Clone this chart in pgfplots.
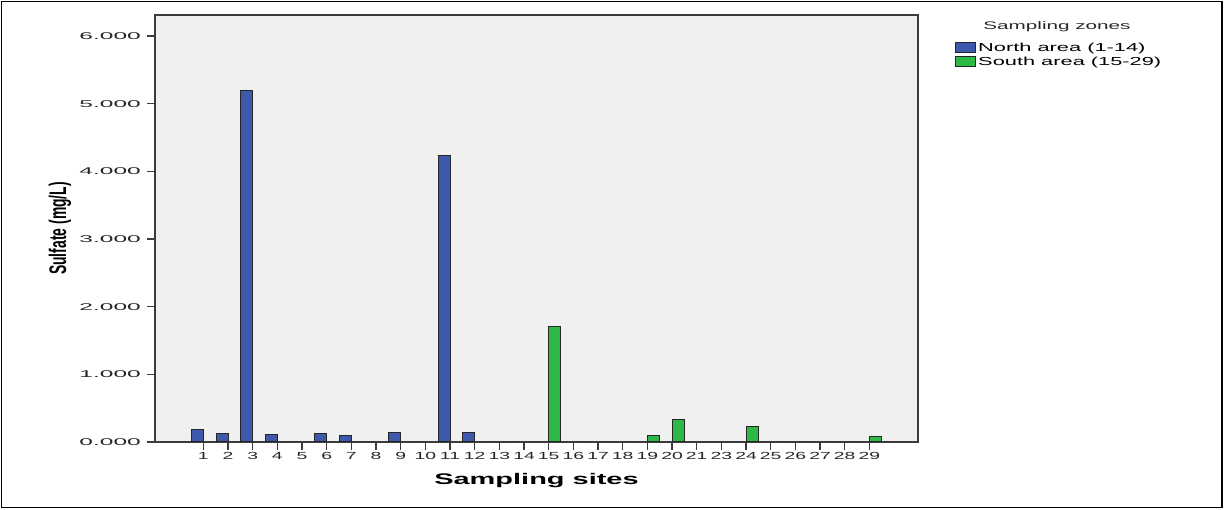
\documentclass[border=0pt]{standalone}
\usepackage{pgfplots}
\pgfplotsset{compat=1.18}
\usepackage{fontspec}
\setmainfont[FakeStretch=1.88]{Liberation Sans}
\newfontfamily\ylabfont[FakeStretch=0.58]{Liberation Sans}
\newfontfamily\ytickfont[FakeStretch=2.5]{Liberation Sans}
\definecolor{northblue}{RGB}{62,88,172}
\definecolor{southgreen}{RGB}{46,184,72}
\definecolor{plotbg}{RGB}{240,240,240}
\definecolor{axisgray}{RGB}{60,60,60}
\begin{document}
\begin{tikzpicture}[x=1pt,y=1pt]
\useasboundingbox (0,0) rectangle (1225,510);
\draw[line width=1.3pt] (1.5,2.5) rectangle (1222,508.5);
\begin{axis}[
  at={(155pt,68pt)}, anchor=south west,
  scale only axis, width=763pt, height=427pt,
  xmin=-1.96, xmax=28.97, ymin=0, ymax=6.31,
  ybar=0pt, bar width=12pt,
  axis background/.style={fill=plotbg},
  axis line style={line width=1.3pt, axisgray},
  tick align=outside, major tick length=8pt,
  tick style={line width=1.3pt, axisgray},
  xtick pos=bottom, ytick pos=left,
  xtick={0,...,27},
  xticklabels={1,2,3,4,5,6,7,8,9,10,11,12,13,14,15,16,17,18,19,20,21,23,24,25,26,27,28,29},
  xticklabel style={font=\fontsize{10.3}{11}\selectfont, text=black!85, inner sep=1pt, yshift=-1pt},
  ytick={0,1,2,3,4,5,6},
  /pgf/number format/assume math mode=true,
  yticklabel style={font=\ytickfont\fontsize{9.8}{10}\selectfont, text=black!85, inner sep=1pt, xshift=-5pt,
    /pgf/number format/fixed, /pgf/number format/fixed zerofill, /pgf/number format/precision=3},
  xlabel={\bfseries Sampling sites},
  xlabel style={font=\fontsize{15.4}{16}\selectfont, at={(axis description cs:0.5,-0.0913)}, anchor=center},
  ylabel={\ylabfont\bfseries Sulfate (mg/L)},
  ylabel style={font=\fontsize{24}{24}\selectfont, at={(axis description cs:-0.1245,0.5)}, anchor=center},
  legend style={at={(axis description cs:1.0485,0.94)}, anchor=north west, draw=none, fill=none,
    font=\fontsize{11.6}{13}\selectfont, inner sep=0pt, row sep=0pt,
    /tikz/every even column/.append style={column sep=0pt}},
  legend cell align=left,
  legend image code/.code={\draw[#1, line width=1pt] (0pt,-5pt) rectangle (20pt,5pt);},
]
\addplot[fill=northblue, draw=black!85, line width=1pt] coordinates {
(0,0.188) (1,0.124) (2,5.20) (3,0.110) (4,0) (5,0.124) (6,0.100)
(7,0) (8,0.135) (9,0) (10,4.23) (11,0.140) (12,0) (13,0)};
\addlegendentry{North area (1-14)}
\addplot[fill=southgreen, draw=black!85, line width=1pt] coordinates {
(14,1.70) (15,0) (16,0) (17,0) (18,0.09) (19,0.335) (20,0)
(21,0) (22,0.235) (23,0) (24,0) (25,0) (26,0) (27,0.08)};
\addlegendentry{South area (15-29)}
\end{axis}
\node[font=\fontsize{11}{12}\selectfont, text=black!85] at (1057,483) {Sampling zones};
\end{tikzpicture}
\end{document}
